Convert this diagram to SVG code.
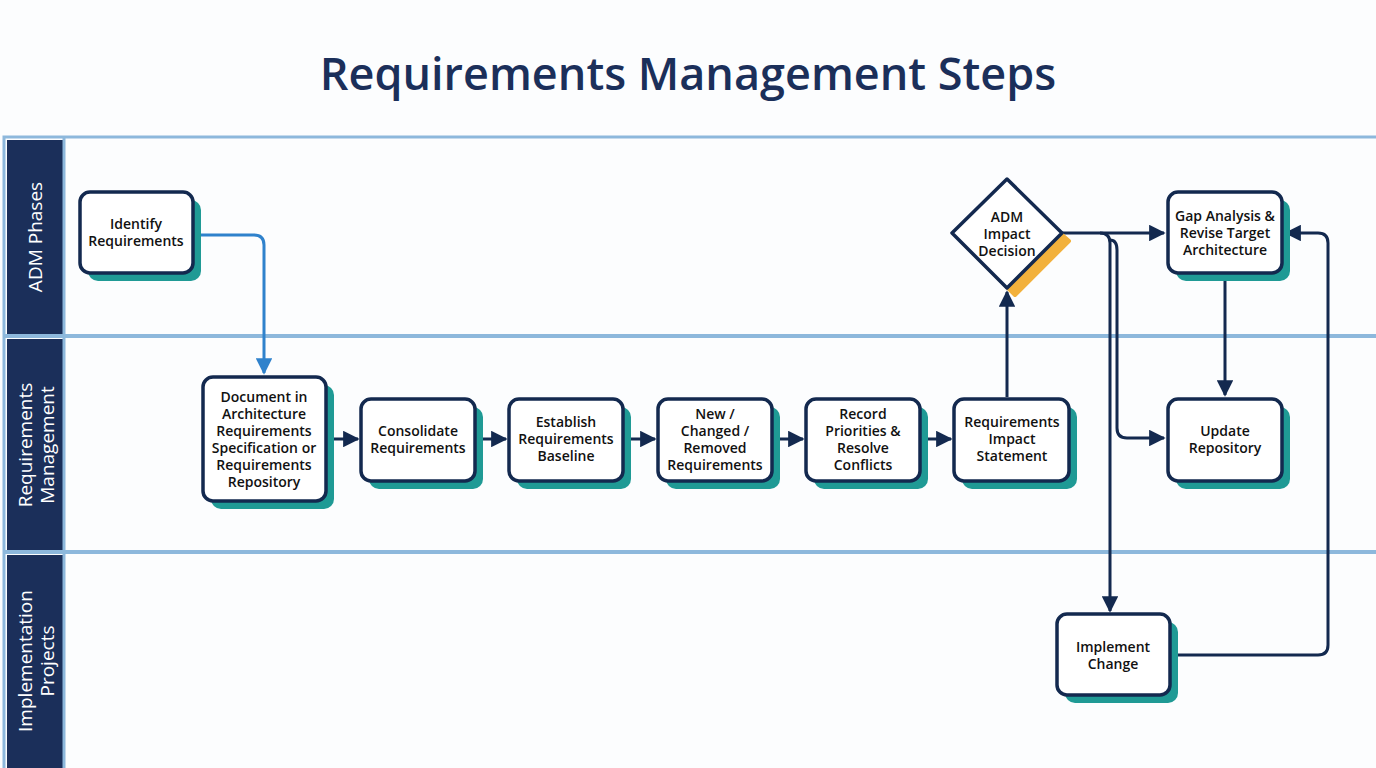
<svg xmlns="http://www.w3.org/2000/svg" width="1376" height="768" viewBox="0 0 1376 768">
<defs>
<style>
.t{font-family:"Open Sans","Liberation Sans",sans-serif;font-size:14px;font-weight:600;fill:#111;text-anchor:middle}
.lane{font-family:"Open Sans","Liberation Sans",sans-serif;font-size:19px;fill:#fff;text-anchor:middle}
.box{fill:#fff;stroke:#13294f;stroke-width:3.5}
.sh{fill:#1f9a95}
.c{fill:none;stroke:#13294f;stroke-width:3}
.cb{fill:none;stroke:#2f82cc;stroke-width:3}
</style>
<marker id="a" viewBox="0 0 10 10" refX="9" refY="5" markerWidth="5.5" markerHeight="5.5" orient="auto"><path d="M0,0L10,5L0,10z" fill="#13294f"/></marker>
<marker id="ab" viewBox="0 0 10 10" refX="9" refY="5" markerWidth="5.5" markerHeight="5.5" orient="auto"><path d="M0,0L10,5L0,10z" fill="#2f82cc"/></marker>
</defs>
<rect width="1376" height="768" fill="#fcfdfe"/>
<text x="688" y="90" font-family="'Open Sans','Liberation Sans',sans-serif" font-size="45" font-weight="600" fill="#1b2f5a" text-anchor="middle">Requirements Management Steps</text>
<g id="lanes">
<rect x="4" y="137" width="1380" height="640" fill="none" stroke="#8db8dc" stroke-width="3"/>
<line x1="4" y1="336" x2="1376" y2="336" stroke="#8db8dc" stroke-width="4"/>
<line x1="4" y1="552" x2="1376" y2="552" stroke="#8db8dc" stroke-width="4"/>
<rect x="7" y="140" width="56" height="194" fill="#1b2f5a"/>
<rect x="7" y="339" width="56" height="211" fill="#1b2f5a"/>
<rect x="7" y="555" width="56" height="213" fill="#1b2f5a"/>
<line x1="64" y1="137" x2="64" y2="768" stroke="#8db8dc" stroke-width="3"/>
<text class="lane" transform="translate(42,237) rotate(-90)">ADM Phases</text>
<text class="lane" transform="translate(32,445) rotate(-90)">Requirements</text>
<text class="lane" transform="translate(54,445) rotate(-90)">Management</text>
<text class="lane" transform="translate(32,661) rotate(-90)">Implementation</text>
<text class="lane" transform="translate(54,661) rotate(-90)">Projects</text>
</g>
<g id="connectors">
<path class="cb" d="M193,235H254Q264,235 264,245V373" marker-end="url(#ab)"/>
<path class="c" d="M328,439H358" marker-end="url(#a)"/>
<path class="c" d="M477,439H506" marker-end="url(#a)"/>
<path class="c" d="M625,439H655" marker-end="url(#a)"/>
<path class="c" d="M774,439H803" marker-end="url(#a)"/>
<path class="c" d="M922,439H951" marker-end="url(#a)"/>
<path class="c" d="M1007,397V292" marker-end="url(#a)"/>
<path class="c" d="M1062,233H1164" marker-end="url(#a)"/>
<path class="c" d="M1100,233Q1110,233 1110,243V611" marker-end="url(#a)"/>
<path class="c" d="M1110,240Q1117,240 1117,250V428Q1117,438 1127,438H1164" marker-end="url(#a)"/>
<path class="c" d="M1225,275V395" marker-end="url(#a)"/>
<path class="c" d="M1171,655H1318Q1328,655 1328,645V243Q1328,233 1318,233H1286" marker-end="url(#a)"/>
</g>
<g id="identify"><rect class="sh" x="88" y="200" width="113" height="81" rx="10"/><rect class="box" x="80" y="192" width="113" height="81" rx="10"/><text class="t" x="136" y="229">Identify</text><text class="t" x="136" y="246">Requirements</text></g>
<g id="document"><rect class="sh" x="211" y="385" width="123" height="124" rx="10"/><rect class="box" x="203" y="377" width="123" height="124" rx="10"/><text class="t" x="264" y="402">Document in</text><text class="t" x="264" y="419">Architecture</text><text class="t" x="264" y="436">Requirements</text><text class="t" x="264" y="453">Specification or</text><text class="t" x="264" y="470">Requirements</text><text class="t" x="264" y="487">Repository</text></g>
<g id="consolidate"><rect class="sh" x="369" y="407" width="114" height="82" rx="10"/><rect class="box" x="361" y="399" width="114" height="82" rx="10"/><text class="t" x="418" y="436">Consolidate</text><text class="t" x="418" y="453">Requirements</text></g>
<g id="establish"><rect class="sh" x="517" y="407" width="114" height="82" rx="10"/><rect class="box" x="509" y="399" width="114" height="82" rx="10"/><text class="t" x="566" y="427">Establish</text><text class="t" x="566" y="444">Requirements</text><text class="t" x="566" y="461">Baseline</text></g>
<g id="changed"><rect class="sh" x="666" y="407" width="114" height="82" rx="10"/><rect class="box" x="658" y="399" width="114" height="82" rx="10"/><text class="t" x="715" y="419">New /</text><text class="t" x="715" y="436">Changed /</text><text class="t" x="715" y="453">Removed</text><text class="t" x="715" y="470">Requirements</text></g>
<g id="record"><rect class="sh" x="814" y="407" width="114" height="82" rx="10"/><rect class="box" x="806" y="399" width="114" height="82" rx="10"/><text class="t" x="863" y="419">Record</text><text class="t" x="863" y="436">Priorities &amp;</text><text class="t" x="863" y="453">Resolve</text><text class="t" x="863" y="470">Conflicts</text></g>
<g id="ris"><rect class="sh" x="962" y="407" width="115" height="82" rx="10"/><rect class="box" x="954" y="399" width="115" height="82" rx="10"/><text class="t" x="1012" y="427">Requirements</text><text class="t" x="1012" y="444">Impact</text><text class="t" x="1012" y="461">Statement</text></g>
<g id="decision"><path d="M1007,186L1069,241L1015,295L961,241z" fill="#f2b13c" stroke="#f2b13c" stroke-width="4" stroke-linejoin="round"/><path d="M1007,179L1062,233L1007,288L952,233z" fill="#fff" stroke="#13294f" stroke-width="3.5" stroke-linejoin="round"/><text class="t" x="1007" y="222">ADM</text><text class="t" x="1007" y="239">Impact</text><text class="t" x="1007" y="256">Decision</text></g>
<g id="gap"><rect class="sh" x="1176" y="200" width="114" height="81" rx="10"/><rect class="box" x="1168" y="192" width="114" height="81" rx="10"/><text class="t" x="1225" y="221">Gap Analysis &amp;</text><text class="t" x="1225" y="238">Revise Target</text><text class="t" x="1225" y="255">Architecture</text></g>
<g id="update"><rect class="sh" x="1176" y="407" width="114" height="82" rx="10"/><rect class="box" x="1168" y="399" width="114" height="82" rx="10"/><text class="t" x="1225" y="436">Update</text><text class="t" x="1225" y="453">Repository</text></g>
<g id="implement"><rect class="sh" x="1065" y="622" width="113" height="81" rx="10"/><rect class="box" x="1057" y="614" width="113" height="81" rx="10"/><text class="t" x="1113" y="652">Implement</text><text class="t" x="1113" y="669">Change</text></g>
</svg>
